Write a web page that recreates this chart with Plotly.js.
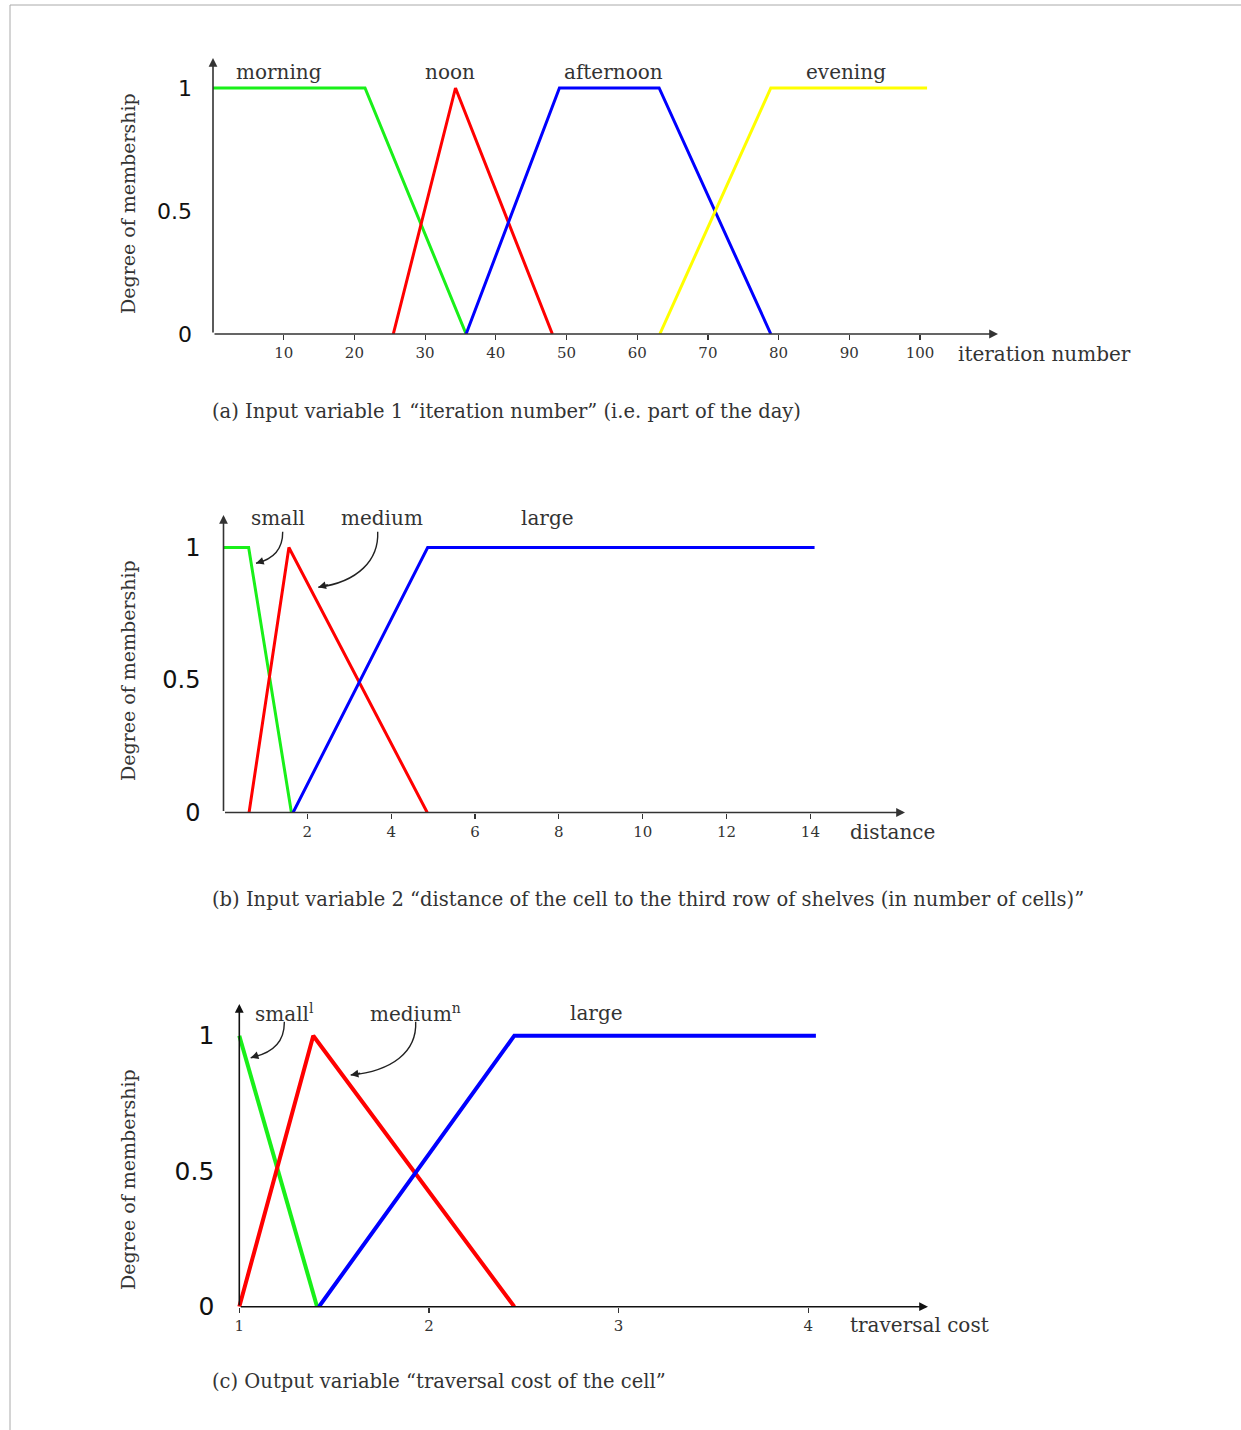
<!DOCTYPE html>
<html>
<head>
<meta charset="utf-8">
<script src="https://cdn.plot.ly/plotly-3.0.1.min.js"></script>
<style>html,body{margin:0;padding:0;background:#fff;}#chart{width:1241px;height:1430px;}</style>
</head>
<body>
<div id="chart"></div>
<script>
// ---------- data ----------
// (a) iteration number
const morningX = [0, 21.5, 35.8];
const morningY = [1, 1, 0];
const noonX = [25.5, 34.3, 48];
const noonY = [0, 1, 0];
const afternoonX = [35.8, 49, 63.1, 78.9];
const afternoonY = [0, 1, 1, 0];
const eveningX = [63.2, 78.9, 101];
const eveningY = [0, 1, 1];
const iterTicks = [10, 20, 30, 40, 50, 60, 70, 80, 90, 100];

// (b) distance
const distSmallX = [0, 0.6, 1.62];
const distSmallY = [1, 1, 0];
const distMediumX = [0.61, 1.56, 4.86];
const distMediumY = [0, 1, 0];
const distLargeX = [1.66, 4.87, 14.1];
const distLargeY = [0, 1, 1];
const distTicks = [2, 4, 6, 8, 10, 12, 14];

// (c) traversal cost
const costSmallX = [1, 1.41];
const costSmallY = [1, 0];
const costMediumX = [1, 1.39, 2.45];
const costMediumY = [0, 1, 0];
const costLargeX = [1.42, 2.45, 4.04];
const costLargeY = [0, 1, 1];
const costTicks = [1, 2, 3, 4];

const membershipTicks = [0, 0.5, 1];
const membershipTickText = ['0', '0.5', '1'];

const yTitle = 'Degree of membership';
const captions = [
  '(a) Input variable 1 \u201citeration number\u201d (i.e. part of the day)',
  '(b) Input variable 2 \u201cdistance of the cell to the third row of shelves (in number of cells)\u201d',
  '(c) Output variable \u201ctraversal cost of the cell\u201d'
];

// ---------- layout helpers (pixel placement) ----------
const W = 1241, H = 1430;
const px = x => x / W;
const py = y => 1 - y / H;
const SERIF = 'DejaVu Serif';
const SANS = 'DejaVu Sans';
const GREEN = '#19f019', RED = '#ff0000', BLUE = '#0000ff', YELLOW = '#ffff00';

function panel(spec) {
  const pad = 12;
  const xEnd = spec.xOrigin + (spec.xEndPx - spec.x0px) / spec.xScale;
  const yTop = (spec.y0px - spec.yTopPx) / spec.yScale;
  return {
    xdomain: [px(spec.x0px - pad), px(spec.xEndPx + 2)],
    xrange: [spec.xOrigin - pad / spec.xScale, spec.xOrigin + (spec.xEndPx + 2 - spec.x0px) / spec.xScale],
    ydomain: [py(spec.y0px), py(spec.yTopPx - 2)],
    yrange: [0, (spec.y0px - spec.yTopPx + 2) / spec.yScale],
    xEnd: xEnd, yTop: yTop, xOrigin: spec.xOrigin
  };
}

const P1 = panel({x0px: 213, xOrigin: 0, xScale: 7.07, xEndPx: 998, y0px: 334, yScale: 246, yTopPx: 58});
const P2 = panel({x0px: 223.5, xOrigin: 0, xScale: 41.92, xEndPx: 905, y0px: 812.5, yScale: 265, yTopPx: 515});
const P3 = panel({x0px: 239.3, xOrigin: 1, xScale: 189.67, xEndPx: 928, y0px: 1306.7, yScale: 271, yTopPx: 1004});

function line(x, y, color, w, xa, ya, name) {
  return {x: x, y: y, type: 'scatter', mode: 'lines', name: name,
    line: {color: color, width: w}, xaxis: xa, yaxis: ya, hoverinfo: 'x+y+name'};
}

const data = [
  line(morningX, morningY, GREEN, 3, 'x', 'y', 'morning'),
  line(noonX, noonY, RED, 3, 'x', 'y', 'noon'),
  line(afternoonX, afternoonY, BLUE, 3, 'x', 'y', 'afternoon'),
  line(eveningX, eveningY, YELLOW, 3, 'x', 'y', 'evening'),
  line(distSmallX, distSmallY, GREEN, 3, 'x2', 'y2', 'small'),
  line(distMediumX, distMediumY, RED, 3, 'x2', 'y2', 'medium'),
  line(distLargeX, distLargeY, BLUE, 3, 'x2', 'y2', 'large'),
  line(costSmallX, costSmallY, GREEN, 4, 'x3', 'y3', 'small'),
  line(costMediumX, costMediumY, RED, 4, 'x3', 'y3', 'medium'),
  line(costLargeX, costLargeY, BLUE, 4, 'x3', 'y3', 'large')
];

function xaxis(P, ticks, anchor) {
  return {domain: P.xdomain, range: P.xrange, anchor: anchor, tickmode: 'array', tickvals: ticks,
    ticks: 'outside', ticklen: 5, tickwidth: 1.2, tickcolor: '#333', showline: false, showgrid: false,
    zeroline: false, tickfont: {family: SERIF, size: 15, color: '#333'}, fixedrange: true};
}
function yaxis(P, anchor, size, standoff) {
  return {domain: P.ydomain, range: P.yrange, anchor: anchor, tickmode: 'array', tickvals: membershipTicks,
    ticktext: membershipTickText, ticks: '', showline: false, showgrid: false, zeroline: false,
    ticklabelstandoff: standoff, tickfont: {family: SANS, size: size, color: '#111'}, fixedrange: true};
}

function axisArrow(xref, yref, x, y, ax, ay, color) {
  return {xref: xref, yref: yref, axref: xref, ayref: yref, x: x, y: y, ax: ax, ay: ay, text: '',
    showarrow: true, arrowhead: 2, arrowsize: 1.1, arrowwidth: 1.6, arrowcolor: color, standoff: 0, startstandoff: 0};
}
function label(text, xc, yc, size, anchor) {
  return {xref: 'paper', yref: 'paper', x: px(xc), y: py(yc), text: text, showarrow: false,
    xanchor: anchor || 'center', yanchor: 'middle', font: {family: SERIF, size: size || 20, color: '#333'}};
}
function vtitle(yc) {
  return {xref: 'paper', yref: 'paper', x: px(128), y: py(yc), text: yTitle, textangle: -90, showarrow: false,
    xanchor: 'center', yanchor: 'middle', font: {family: SERIF, size: 19, color: '#333'}};
}
function arrowTip(xt, yt, dx, dy) {
  return {xref: 'paper', yref: 'paper', x: px(xt), y: py(yt), ax: dx, ay: dy, text: '', showarrow: true,
    arrowhead: 2, arrowsize: 1.1, arrowwidth: 1.4, arrowcolor: '#222', standoff: 0};
}
function curve(d) {
  let s = '';
  d.forEach(seg => {
    s += seg[0];
    for (let i = 1; i < seg.length; i += 2) s += ' ' + px(seg[i]).toFixed(5) + ',' + py(seg[i + 1]).toFixed(5);
    s += ' ';
  });
  return {type: 'path', xref: 'paper', yref: 'paper', path: s.trim(), line: {color: '#222', width: 1.4}};
}

const annotations = [
  // axes with arrow heads
  axisArrow('x', 'y', P1.xEnd, 0, P1.xOrigin, 0, '#333'),
  axisArrow('x', 'y', P1.xOrigin, P1.yTop, P1.xOrigin, 0, '#333'),
  axisArrow('x2', 'y2', P2.xEnd, 0, P2.xOrigin, 0, '#333'),
  axisArrow('x2', 'y2', P2.xOrigin, P2.yTop, P2.xOrigin, 0, '#333'),
  axisArrow('x3', 'y3', P3.xEnd, 0, P3.xOrigin, 0, '#111'),
  axisArrow('x3', 'y3', P3.xOrigin, P3.yTop, P3.xOrigin, 0, '#111'),
  // series labels (a)
  label('morning', 279, 72), label('noon', 450, 72), label('afternoon', 613, 72), label('evening', 846, 72),
  label('iteration number', 956, 354, 20, 'left'),
  label(captions[0], 210, 412, 19.5, 'left'),
  vtitle(204),
  // (b)
  label('small', 278, 518), label('medium', 382, 518), label('large', 547, 518),
  label('distance', 848, 832, 20, 'left'),
  label(captions[1], 210, 899, 19.5, 'left'),
  vtitle(671),
  arrowTip(256, 563.3, 9, -3),
  arrowTip(318.3, 587.3, 11, -3),
  // (c)
  label('small<sup>l</sup>', 284, 1013), label('medium<sup>n</sup>', 415, 1013), label('large', 596, 1013),
  label('traversal cost', 848, 1325, 20, 'left'),
  label(captions[2], 210, 1381, 19.5, 'left'),
  vtitle(1180),
  arrowTip(250.7, 1057.7, 9, -3),
  arrowTip(350.7, 1075, 11, -2)
];

const shapes = [
  // page border
  {type: 'line', xref: 'paper', yref: 'paper', x0: px(10), y0: py(5), x1: 1, y1: py(5), line: {color: '#aaaaaa', width: 1}},
  {type: 'line', xref: 'paper', yref: 'paper', x0: px(10), y0: py(5), x1: px(10), y1: 0, line: {color: '#aaaaaa', width: 1}},
  // curved pointer arrows
  curve([['M', 282.7, 531.7], ['Q', 283, 557, 256, 563.3]]),
  curve([['M', 377.7, 531.7], ['C', 379, 560, 358, 582, 318.3, 587.3]]),
  curve([['M', 284.3, 1021.7], ['Q', 285, 1051, 250.7, 1057.7]]),
  curve([['M', 415.7, 1021.7], ['C', 417, 1052, 392, 1071, 350.7, 1075]])
];

const layout = {
  width: W, height: H, margin: {l: 0, r: 0, t: 0, b: 0}, paper_bgcolor: '#fff', plot_bgcolor: 'rgba(0,0,0,0)',
  showlegend: false,
  xaxis: xaxis(P1, iterTicks, 'y'), yaxis: yaxis(P1, 'x', 22, 8),
  xaxis2: xaxis(P2, distTicks, 'y2'), yaxis2: yaxis(P2, 'x2', 24, 10),
  xaxis3: xaxis(P3, costTicks, 'y3'), yaxis3: yaxis(P3, 'x3', 25, 12),
  annotations: annotations, shapes: shapes
};

Plotly.newPlot('chart', data, layout, {displayModeBar: false, staticPlot: true});
</script>
</body>
</html>
